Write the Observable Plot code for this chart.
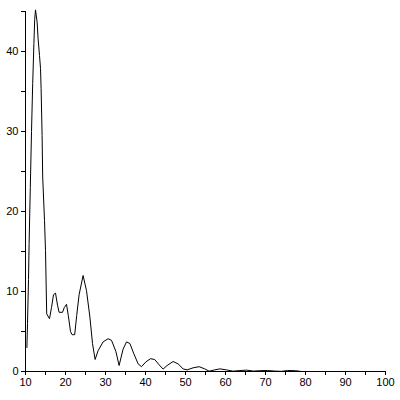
<!DOCTYPE html>
<html>
<head>
<meta charset="utf-8">
<script src="https://cdn.jsdelivr.net/npm/d3@7"></script>
<script src="https://cdn.jsdelivr.net/npm/@observablehq/plot@0.6"></script>
<style>
  html, body { margin: 0; padding: 0; background: #fff; }
  #chart svg { display: block; }
</style>
</head>
<body>
<div id="chart"></div>
<script>
const xs = [10.35, 10.5, 10.75, 10.9, 11.2, 11.5, 11.8, 12.1, 12.3, 12.5,
  12.9, 13.15, 13.5, 13.75, 13.9, 14.15, 14.3, 14.75, 15.0, 15.3,
  16.0, 16.5, 17.0, 17.5, 18.0, 18.4, 19.25, 19.7, 20.25, 20.7,
  21.25, 21.65, 22.3, 22.8, 23.4, 24.4, 25.25, 26.1, 26.75, 27.4,
  28.15, 29.4, 30.65, 31.5, 32.6, 33.4, 34.4, 35.25, 36.1, 37.1,
  38.15, 39.0, 40.1, 41.25, 42.3, 43.4, 44.4, 45.4, 46.9, 48.15,
  49.4, 50.4, 51.9, 53.4, 54.8, 55.9, 57.3, 58.6, 60.25, 61.9,
  63.6, 65.25, 67, 68.5, 70.5, 72.5, 74, 75.5, 77.5, 79, 100];
const ys = [3.0, 6.0, 11.5, 16, 23, 30, 36, 41, 44, 45.2,
  43.7, 41.6, 39.5, 37.9, 35.4, 29.5, 24.3, 18.9, 15.1, 7.2,
  6.6, 8.0, 9.6, 9.8, 8.3, 7.4, 7.4, 8.0, 8.4, 7.0,
  5.0, 4.6, 4.6, 7.0, 9.6, 12.0, 10.1, 6.8, 3.5, 1.5,
  2.6, 3.7, 4.1, 3.9, 2.5, 0.75, 2.8, 3.7, 3.5, 2.2,
  0.96, 0.6, 1.2, 1.6, 1.5, 0.84, 0.3, 0.75, 1.25, 0.95,
  0.33, 0.2, 0.46, 0.6, 0.33, 0.04, 0.2, 0.33, 0.2, 0.04,
  0.12, 0.17, 0.05, 0.1, 0.12, 0.05, 0.02, 0.12, 0.1, 0, 0];
const xTicks = [10, 15, 20, 25, 30, 35, 40, 45, 50, 55, 60, 65, 70, 75, 80, 85, 90, 95, 100];
const yTicks = [0, 5, 10, 15, 20, 25, 30, 35, 40, 45];
const xLabels = [10, 20, 30, 40, 50, 60, 70, 80, 90, 100];
const yLabels = [0, 10, 20, 30, 40];

const data = xs.map((x, i) => ({x, y: ys[i]}));

const chart = Plot.plot({
  width: 400,
  height: 400,
  marginLeft: 25,
  marginRight: 15,
  marginTop: 11,
  marginBottom: 29,
  style: {fontFamily: "Liberation Sans, Arial, sans-serif", fontSize: "11px", color: "#000", background: "#fff"},
  x: {domain: [10, 100]},
  y: {domain: [0, 45]},
  marks: [
    Plot.axisX({ticks: xTicks, tickSize: 4, tickPadding: 3, stroke: "#000", strokeOpacity: 1,
      tickFormat: d => xLabels.includes(d) ? String(d) : "", label: null}),
    Plot.axisY({ticks: yTicks, tickSize: 4, tickPadding: 3, stroke: "#000", strokeOpacity: 1,
      tickFormat: d => yLabels.includes(d) ? String(d) : "", label: null}),
    Plot.ruleX([10], {stroke: "#000", strokeWidth: 1}),
    Plot.ruleY([0], {stroke: "#000", strokeWidth: 1}),
    Plot.line(data, {x: "x", y: "y", stroke: "#000", strokeWidth: 1})
  ]
});
document.getElementById("chart").appendChild(chart);
</script>
</body>
</html>
